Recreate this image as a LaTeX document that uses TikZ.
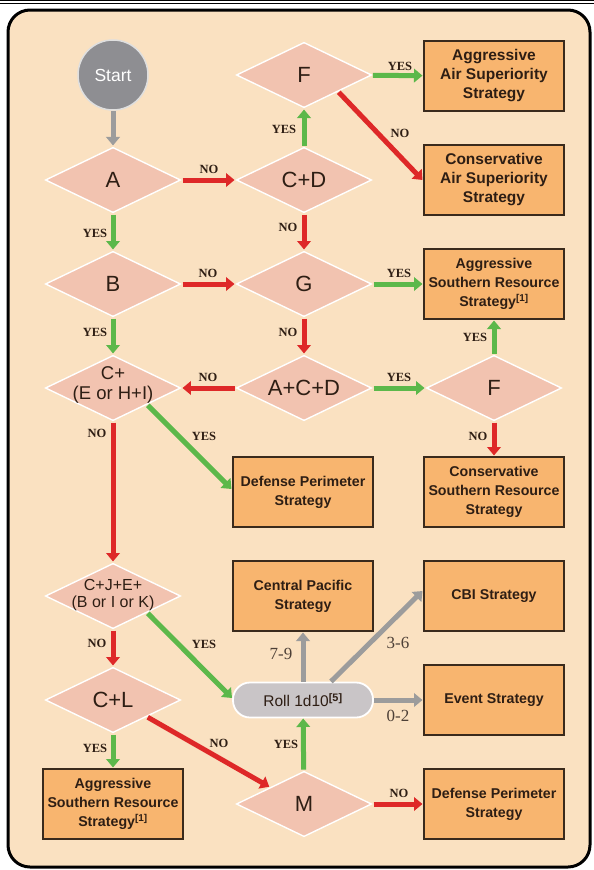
\documentclass[tikz,border=0pt]{standalone}
\usepackage{fontspec}
\setmainfont{Liberation Sans}
\newfontfamily\labelfont{Liberation Serif}
\usetikzlibrary{shapes.geometric,arrows.meta,calc}

\definecolor{paper}{HTML}{FAE1C1}
\definecolor{decfill}{HTML}{F2C3B0}
\definecolor{boxfill}{HTML}{F8B56F}
\definecolor{boxline}{HTML}{3A2A1C}
\definecolor{inktext}{HTML}{2E1E14}
\definecolor{yesgreen}{HTML}{5CB84A}
\definecolor{nored}{HTML}{DE2828}
\definecolor{rollgray}{HTML}{9C9C9C}
\definecolor{startgray}{HTML}{8E8E92}
\definecolor{pillfill}{HTML}{C9C5C7}

\begin{document}
\begin{tikzpicture}[x=1pt,y=-1pt,
  decision/.style={diamond, fill=decfill, draw=white, line width=1.4pt,
    minimum width=136pt, minimum height=66pt, inner sep=0pt, outer sep=1.5pt},
  dtext/.style={font=\fontsize{22}{24}\selectfont, text=inktext, align=center, inner sep=0pt},
  outcome/.style={rectangle, fill=boxfill, draw=boxline, line width=2.2pt,
    minimum width=140pt, minimum height=70pt, align=center, text=inktext,
    font=\fontsize{14.2}{19}\selectfont\bfseries, inner sep=2pt, outer sep=1.5pt},
  airbox/.style={outcome, font=\fontsize{15.5}{19}\selectfont\bfseries},
  flow/.style={line width=5pt, -{Triangle[length=8.5pt,width=13.5pt]}},
  yesflow/.style={flow, color=yesgreen},
  noflow/.style={flow, color=nored},
  rollflow/.style={flow, color=rollgray},
  answer/.style={font=\labelfont\bfseries\fontsize{12.5}{13}\selectfont, text=inktext, inner sep=0pt},
  dice/.style={font=\labelfont\fontsize{17}{18}\selectfont, text=inktext!85, inner sep=0pt},
]
\useasboundingbox (0,0) rectangle (594,870);

% page rule and rounded panel
\draw[line width=1.1pt] (0,0.8) -- (594,0.8);
\draw[line width=1.1pt] (0,3.6) -- (594,3.6);
\draw[line width=3pt, rounded corners=22pt, fill=paper] (8,10) rectangle (590,867);

% start
\node[circle, minimum size=70pt, inner sep=0pt, fill=startgray, draw=white!75!gray,
  line width=1.5pt, text=white, font=\fontsize{17.5}{20}\selectfont, outer sep=1pt] (start) at (113,75) {Start};

% decisions
\node[decision, label={[dtext]center:A}] (A) at (113,180) {};
\node[decision, label={[dtext]center:C+D}] (CD) at (304,180) {};
\node[decision, label={[dtext]center:F}] (F1) at (304,75) {};
\node[decision, label={[dtext]center:B}] (B) at (113,284) {};
\node[decision, label={[dtext]center:G}] (G) at (304,284) {};
\node[decision, label={[dtext, font=\fontsize{18.5}{20}\selectfont, yshift=3pt]center:C+\\(E or H+I)}] (Cp) at (113,388) {};
\node[decision, label={[dtext]center:A+C+D}] (ACD) at (304,388) {};
\node[decision, label={[dtext]center:F}] (F2) at (494,388) {};
\node[decision, label={[dtext, font=\fontsize{16}{17}\selectfont, yshift=1pt]center:C+J+E+\\(B or I or K)}] (CJ) at (113,596) {};
\node[decision, label={[dtext]center:C+L}] (CL) at (113,700) {};
\node[decision, label={[dtext]center:M}] (M) at (304,804) {};

% roll
\node[rectangle, rounded corners=17pt, minimum width=140pt, minimum height=35pt,
  fill=pillfill, draw=white, line width=1.8pt, text=inktext, outer sep=1pt,
  font=\fontsize{15.5}{18}\selectfont] (roll) at (303,700) {Roll 1d10\textsuperscript{\bfseries[5]}};

% outcomes
\node[airbox] (airAgg) at (494,76) {Aggressive\\Air Superiority\\Strategy};
\node[airbox] (airCons) at (494,180) {Conservative\\Air Superiority\\Strategy};
\node[outcome] (srAgg) at (494,284) {Aggressive\\Southern Resource\\Strategy\textsuperscript{[1]}};
\node[outcome] (srCons) at (494,492) {Conservative\\Southern Resource\\Strategy};
\node[outcome] (dp1) at (303,492) {Defense Perimeter\\Strategy};
\node[outcome] (central) at (303,596) {Central Pacific\\Strategy};
\node[outcome] (cbi) at (494,596) {CBI Strategy};
\node[outcome] (event) at (494,700) {Event Strategy};
\node[outcome] (srAgg2) at (113,804) {Aggressive\\Southern Resource\\Strategy\textsuperscript{[1]}};
\node[outcome] (dp2) at (494,804) {Defense Perimeter\\Strategy};

% connectors
\draw[rollflow] (start) -- (A);
\draw[noflow] (A) -- (CD);
\draw[yesflow] (CD) -- (F1);
\draw[yesflow] (F1) -- (airAgg);
\draw[noflow] (F1.south east) -- (airCons.west);
\draw[noflow] (CD) -- (G);
\draw[yesflow] (A) -- (B);
\draw[noflow] (B) -- (G);
\draw[yesflow] (G) -- (srAgg);
\draw[noflow] (G) -- (ACD);
\draw[yesflow] (B) -- (Cp);
\draw[noflow] (ACD) -- (Cp);
\draw[yesflow] (ACD) -- (F2);
\draw[yesflow] (F2) -- (srAgg);
\draw[noflow] (F2) -- (srCons);
\draw[yesflow] (Cp.south east) -- ([yshift=3pt]dp1.west);
\draw[noflow] (Cp) -- (CJ);
\draw[yesflow] (CJ.south east) -- ([yshift=2pt]roll.west);
\draw[noflow] (CJ) -- (CL);
\draw[yesflow] (CL) -- (srAgg2);
\draw[noflow] (CL.south east) -- (M.north west);
\draw[yesflow] (M) -- (roll);
\draw[noflow] (M) -- (dp2);
\draw[rollflow] (roll) -- (central);
\draw[rollflow] ([xshift=28pt]roll.north) -- ([yshift=5pt]cbi.west);
\draw[rollflow] (roll) -- (event);

% answer labels
\node[answer] (n1) at (209,169) {NO};
\node[answer] (y1) at (284,129) {YES};
\node[answer] (y2) at (400,66) {YES};
\node[answer] (n2) at (400,133) {NO};
\node[answer] (y3) at (95,233) {YES};
\node[answer] (n3) at (288,227) {NO};
\node[answer] (n4) at (208,273) {NO};
\node[answer] (y4) at (399,273) {YES};
\node[answer] (y5) at (95,332) {YES};
\node[answer] (n5) at (288,332) {NO};
\node[answer] (n6) at (208,377) {NO};
\node[answer] (y6) at (399,377) {YES};
\node[answer] (y7) at (475,337) {YES};
\node[answer] (n7) at (478,436) {NO};
\node[answer] (n8) at (97,433) {NO};
\node[answer] (y8) at (204,436) {YES};
\node[answer] (n9) at (97,643) {NO};
\node[answer] (y9) at (204,644) {YES};
\node[answer] (y10) at (95,748) {YES};
\node[answer] (n10) at (219,743) {NO};
\node[answer] (y11) at (286,744) {YES};
\node[answer] (n11) at (399,793) {NO};

% roll results
\node[dice] (r79) at (281,654) {7-9};
\node[dice] (r36) at (398,643) {3-6};
\node[dice] (r02) at (398,716) {0-2};
\end{tikzpicture}
\end{document}
